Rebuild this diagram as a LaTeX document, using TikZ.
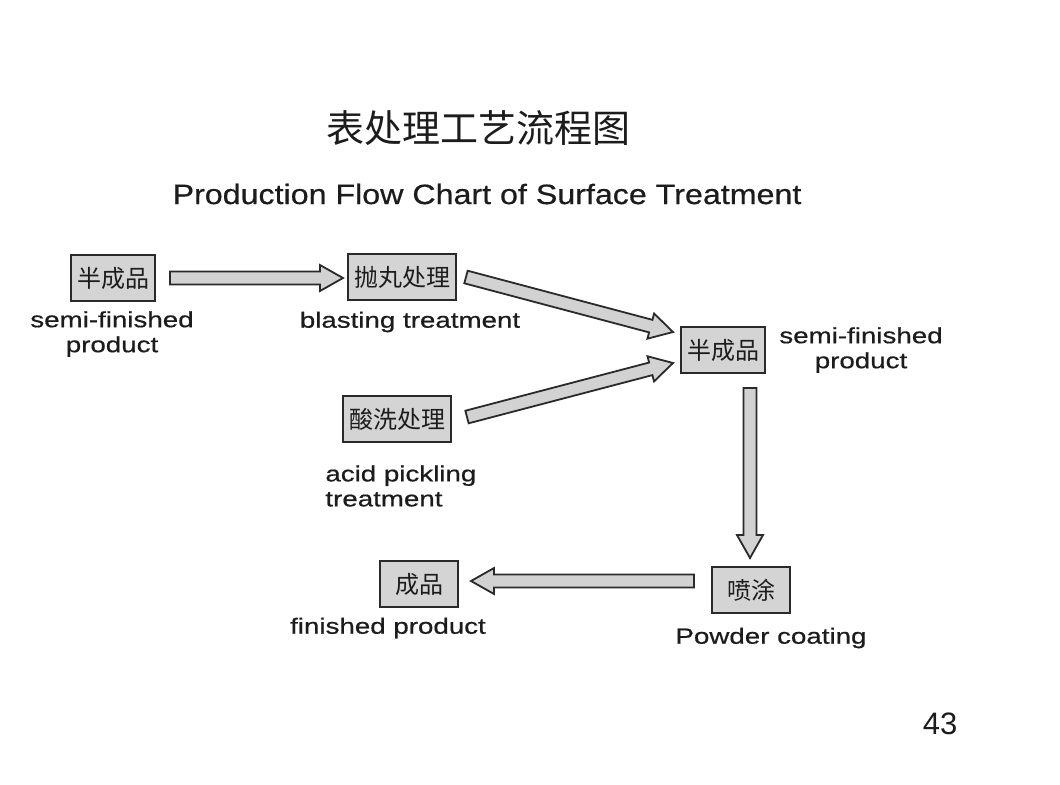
\documentclass[tikz,border=0pt]{standalone}
\usepackage{fontspec}
\setmainfont{Liberation Sans}
\newfontfamily\cjk{Noto Sans CJK SC}
\newfontfamily\lblfont[FakeStretch=1.26,FakeBold=0.6]{Liberation Sans}
\newfontfamily\ttlfont[FakeStretch=1.15,FakeBold=0.5]{Liberation Sans}
\usetikzlibrary{calc}
\definecolor{boxfill}{HTML}{D4D4D4}
\definecolor{arrowfill}{HTML}{D2D2D2}
\definecolor{edge}{HTML}{2A2A2A}
\definecolor{ink}{HTML}{1C1C1C}
\newcommand\flowarrow[2]{%
  \coordinate (bah) at ($(#2)!11.5pt!(#1)$);
  \draw[arrowbody] ($(#1)!3.25pt!-90:(#2)$) -- ($(bah)!3.25pt!-90:(#2)$) -- ($(bah)!6.5pt!-90:(#2)$) -- (#2) -- ($(bah)!6.5pt!90:(#2)$) -- ($(bah)!3.25pt!90:(#2)$) -- ($(#1)!3.25pt!90:(#2)$) -- cycle;}
\begin{document}
\begin{tikzpicture}[x=0.5pt,y=-0.5pt,
  procbox/.style={draw=edge,line width=1pt,fill=boxfill,font=\cjk\fontsize{12}{14}\selectfont,text=ink,
    minimum width=39pt,minimum height=23pt,inner xsep=3pt,inner ysep=1pt},
  arrowbody/.style={draw=edge,line width=0.9pt,fill=arrowfill,line join=miter},
  lbl/.style={font=\lblfont\fontsize{11}{12.5}\selectfont,text=ink,align=center,inner sep=0pt}]
\useasboundingbox[fill=white] (0,0) rectangle (1060,784);
% titles
\node[font=\cjk\fontsize{19}{22}\selectfont,text=ink] (tcn) at (478,128) {表处理工艺流程图};
\node[font=\ttlfont\fontsize{14}{18}\selectfont,text=ink] (ten) at (487,194) {Production Flow Chart of Surface Treatment};
% boxes
\node[procbox] (b1) at (113,278) {半成品};
\node[procbox] (b2) at (402,277) {抛丸处理};
\node[procbox] (b3) at (723,350) {半成品};
\node[procbox] (b4) at (397,419) {酸洗处理};
\node[procbox] (b5) at (751,590) {喷涂};
\node[procbox] (b6) at (419,584) {成品};
% labels
\node[lbl] (l1) at (112,334) {semi-finished\\product};
\node[lbl] (l2) at (410,322) {blasting treatment};
\node[lbl] (l3) at (861,350) {semi-finished\\product};
\node[lbl,align=left,anchor=west] (l4) at (325,486) {acid pickling\\treatment};
\node[lbl] (l5) at (771,638) {Powder coating};
\node[lbl] (l6) at (388,628) {finished product};
\node[font=\fontsize{15.5}{18}\selectfont,text=ink] (pg) at (940,724) {43};
% arrow end points
\coordinate (a1s) at ($(b1.east)+(14,0)$);
\coordinate (a1e) at ($(b2.west)+(-4,1)$);
\coordinate (a2s) at ($(b2.east)+(9,0)$);
\coordinate (a2e) at ($(b3.west)+(-7,-18)$);
\coordinate (a3s) at ($(b4.east)+(15,-2)$);
\coordinate (a3e) at ($(b3.west)+(-7,13)$);
\coordinate (a4s) at ($(b3.south)+(27,14)$);
\coordinate (a4e) at ($(b5.north)+(-1,-8)$);
\coordinate (a5s) at ($(b5.west)+(-17,-9)$);
\coordinate (a5e) at ($(b6.east)+(12,-3)$);
\flowarrow{a1s}{a1e}
\flowarrow{a2s}{a2e}
\flowarrow{a3s}{a3e}
\flowarrow{a4s}{a4e}
\flowarrow{a5s}{a5e}
\end{tikzpicture}
\end{document}
